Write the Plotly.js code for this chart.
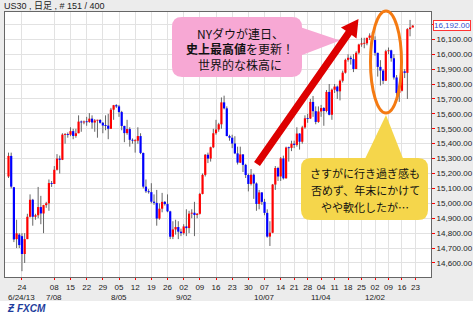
<!DOCTYPE html>
<html><head><meta charset="utf-8">
<script src="https://cdn.plot.ly/plotly-3.0.1.min.js"></script>
<style>html,body{margin:0;padding:0;background:#fff;}#chart{width:475px;height:319px;}</style>
</head><body><div id="chart"></div>
<script>
// ---- Data (US30 daily candles, 151 bars; weeks before mid-Oct include a Sunday bar) ----
const opens = [
15180,15318,15108,14760,
14790,14780,14660,14760,14910,15024,
14910,14920,14975,14932,14988,15000,
15136,15130,15225,15300,15292,15461,
15464,15460,15484,15452,15470,15548,
15543,15548,15546,15568,15542,15556,
15559,15540,15522,15521,15500,15628,
15658,15650,15612,15519,15471,15498,
15426,15420,15420,15451,15338,15112,
15081,15075,15011,15003,14898,14964,
15010,14995,14946,14776,14825,14841,
14810,14800,14845,14834,14931,14937,
14922,14930,15063,15191,15326,15300,
15376,15470,15495,15530,15677,15637,
15451,15440,15401,15335,15273,15328,
15258,15190,15130,15192,15133,14996,
15073,15010,14936,14777,14803,15126,
15237,15180,15301,15168,15374,15372,
15400,15392,15468,15413,15509,
15570,15569,15680,15618,15546,
15616,15639,15619,15747,15594,
15762,15783,15751,15822,15876,
15962,15976,15967,15901,16010,
16065,16073,16073,16110,16125,
16095,16009,15915,15890,15822,
16020,16026,15973,15844,15740,
15755,15885,15875,16168,16179];
const highs = [
15340,15340,15110,14890,
14800,14800,14800,14930,15060,15030,
14930,15110,15050,14990,15010,15160,
15150,15250,15330,15320,15470,15470,
15475,15510,15500,15500,15590,15555,
15555,15580,15605,15590,15565,15560,
15565,15545,15590,15600,15640,15660,
15665,15660,15620,15520,15560,15510,
15435,15430,15510,15470,15340,15160,
15095,15135,15060,15090,15000,15070,
15015,15060,14950,14880,14890,14880,
14830,14860,14960,14950,14960,15010,
14935,15070,15200,15330,15340,15380,
15500,15560,15540,15710,15722,15650,
15460,15460,15450,15380,15380,15330,
15265,15200,15230,15200,15140,15090,
15075,15030,14960,14880,15130,15250,
15245,15310,15320,15380,15380,15420,
15420,15510,15470,15520,15590,
15600,15700,15720,15650,15650,
15660,15645,15760,15800,15770,
15800,15790,15830,15890,15970,
16000,15990,16000,16020,16070,
16110,16110,16110,16140,16150,
16120,16010,15960,15900,16030,
16045,16030,16000,15860,15790,
15900,15900,16175,16230,16195];
const lows = [
15170,15100,14740,14700,
14700,14545,14600,14760,14905,14850,
14890,14900,14860,14800,14970,14950,
15110,15130,15220,15200,15290,15400,
15440,15450,15430,15440,15470,15480,
15530,15520,15540,15500,15480,15440,
15535,15470,15490,15430,15500,15560,
15640,15580,15490,15410,15460,15380,
15400,15340,15400,15330,15100,15070,
15065,15000,14990,14850,14890,14940,
14985,14940,14760,14760,14790,14760,
14780,14790,14780,14800,14900,14780,
14900,14925,15060,15180,15270,15280,
15370,15460,15480,15500,15630,15450,
15420,15370,15330,15260,15270,15210,
15170,15080,15120,15030,14950,14960,
14990,14920,14770,14714,14800,15090,
15150,15150,15160,15165,15280,15350,
15370,15380,15360,15400,15500,
15540,15565,15580,15530,15540,
15580,15520,15610,15590,15560,
15740,15700,15690,15810,15870,
15950,15930,15880,15900,16000,
16050,16040,16060,16095,16080,
15990,15850,15790,15800,15820,
16000,15950,15830,15710,15680,
15750,15840,15700,16120,16180];
const closes = [
15318,15112,14758,14799,
14720,14660,14760,14910,15024,14910,
14920,14975,14932,14988,15000,15136,
15130,15225,15300,15292,15461,15464,
15460,15484,15452,15470,15548,15543,
15548,15546,15568,15542,15556,15559,
15540,15522,15521,15500,15628,15658,
15650,15612,15519,15471,15498,15426,
15420,15420,15451,15338,15112,15081,
15075,15011,15003,14898,14964,15010,
14995,14946,14776,14825,14841,14810,
14800,14845,14834,14931,14937,14922,
14930,15063,15191,15326,15300,15376,
15470,15495,15530,15677,15637,15451,
15440,15401,15335,15273,15328,15258,
15190,15130,15192,15133,14996,15073,
15010,14936,14777,14803,15126,15237,
15180,15301,15168,15374,15372,15400,
15392,15468,15413,15509,15570,
15569,15680,15618,15546,15616,
15639,15619,15747,15594,15762,
15783,15751,15822,15876,15962,
15976,15967,15901,16010,16065,
16073,16073,16110,16125,16095,
16009,15915,15890,15822,16020,
16026,15973,15844,15740,15755,
15885,15875,16168,16179,16192];

const tickIdx   = [5,17,23,29,35,41,47,53,59,65,71,77,83,89,95,101,106,111,116,121,126,131,136,141,146,151];
const tickDay   = ['24','08','15','22','29','05','12','19','26','02','09','16','23','30','07','14','21','28','04','11','18','25','02','09','16','23'];
const tickMonth = ['6/24/13','7/08','','','','8/05','','','','9/02','','','','','10/07','','','','11/04','','','','12/02','','',''];
const yTickVals = [14500,14600,14700,14800,14900,15000,15100,15200,15300,15400,15500,15600,15700,15800,15900,16000,16100,16200];
const lastPrice = 16192;
const headerText = 'US30 , 日足 , # 151 / 400';
const pinkLines = ['NYダウが連日、','<b>史上最高値</b>を更新！','世界的な株高に'];
const yellowLines = ['さすがに行き過ぎ感も','否めず、年末にかけて','やや軟化したが…'];

// ---- Build traces (all scatter so the draw order is: wicks, then bodies) ----
const idx = opens.map((_, i) => i);
const wx = [], wy = [];
idx.forEach(i => { wx.push(i, i, null); wy.push(lows[i], highs[i], null); });
const minH = 6;
const ux = [], uy = [], dx = [], dy = [];
idx.forEach(i => {
  const o = opens[i], c = closes[i];
  const h = Math.max(Math.abs(c - o), minH), m = (o + c) / 2;
  if (c >= o) { ux.push(i, i, null); uy.push(m - h/2, m + h/2, null); }
  else        { dx.push(i, i, null); dy.push(m - h/2, m + h/2, null); }
});
const wicks = {type:'scatter', mode:'lines', x:wx, y:wy, line:{color:'#666666', width:1}, hoverinfo:'skip'};
const upBodies = {type:'scatter', mode:'lines', x:ux, y:uy, line:{color:'#ff0000', width:2.2}, hoverinfo:'skip'};
const downBodies = {type:'scatter', mode:'lines', x:dx, y:dy, line:{color:'#0000ff', width:2.2}, hoverinfo:'skip'};

// ---- pixel -> paper helpers for decorations ----
const PL=5, PT=12, PW=426, PH=265;
const fx = px => (px-PL)/PW;
const fy = py => (PT+PH-py)/PH;
function P(px,py){ return fx(px).toFixed(5)+' '+fy(py).toFixed(5); }
function rrect(x0,y0,x1,y1,r){
  return 'M '+P(x0+r,y0)+' L '+P(x1-r,y0)+' Q '+P(x1,y0)+' '+P(x1,y0+r)+
    ' L '+P(x1,y1-r)+' Q '+P(x1,y1)+' '+P(x1-r,y1)+' L '+P(x0+r,y1)+
    ' Q '+P(x0,y1)+' '+P(x0,y1-r)+' L '+P(x0,y0+r)+' Q '+P(x0,y0)+' '+P(x0+r,y0)+' Z';
}
function arrowPath(tx,ty,hx,hy,hw,L,HW){
  const ddx=hx-tx, ddy=hy-ty, len=Math.hypot(ddx,ddy);
  const vx=ddx/len, vy=ddy/len, nx=-vy, ny=vx;
  const bx=hx-L*vx, by=hy-L*vy;
  const pts=[[tx+hw*nx,ty+hw*ny],[bx+hw*nx,by+hw*ny],[bx+HW*nx,by+HW*ny],[hx,hy],
             [bx-HW*nx,by-HW*ny],[bx-hw*nx,by-hw*ny],[tx-hw*nx,ty-hw*ny]];
  return 'M '+pts.map(p=>P(p[0],p[1])).join(' L ')+' Z';
}
const pink='#f7a8d4', yellow='#f5d64b';
const shapes = [
  {type:'rect', xref:'paper', yref:'paper', x0:fx(-5), x1:fx(480), y0:fy(301), y1:fy(325), fillcolor:'#ffffff', line:{width:0}, layer:'below'},
  {type:'rect', xref:'paper', yref:'paper', x0:fx(473), x1:fx(480), y0:fy(-5), y1:fy(325), fillcolor:'#ffffff', line:{width:0}, layer:'below'},
  {type:'path', xref:'paper', yref:'paper', path:'M '+P(297,26)+' L '+P(340,40.5)+' L '+P(297,57)+' Z', fillcolor:pink, line:{width:0}},
  {type:'path', xref:'paper', yref:'paper', path:rrect(172,17,302,77,10), fillcolor:pink, line:{width:0}},
  {type:'path', xref:'paper', yref:'paper', path:arrowPath(257,164,358.5,19,3.6,17,9.5), fillcolor:'#dd0000', line:{width:0}},
  {type:'circle', xref:'paper', yref:'paper', x0:fx(370.5), x1:fx(401.5), y0:fy(113), y1:fy(11), line:{color:'#f47a12', width:3}},
  {type:'path', xref:'paper', yref:'paper', path:'M '+P(364,161)+' L '+P(386,115)+' L '+P(404,161)+' Z', fillcolor:yellow, line:{width:0}},
  {type:'path', xref:'paper', yref:'paper', path:rrect(301,158,428,220,10), fillcolor:yellow, line:{width:0}}
];

const jp = 'Noto Sans CJK JP, sans-serif';
const latin = 'Liberation Sans, Arial, sans-serif';
const annotations = [
  {xref:'paper', yref:'paper', x:fx(2), y:fy(6), xanchor:'left', yanchor:'middle', text:headerText, showarrow:false, font:{family:'Liberation Sans, Noto Sans CJK JP, sans-serif', size:9, color:'#222'}},
  {xref:'paper', yref:'y', x:fx(432.5), y:lastPrice, xanchor:'left', yanchor:'middle', text:lastPrice.toLocaleString('en-US',{minimumFractionDigits:2}), showarrow:false, bgcolor:'#ffffff', bordercolor:'#ff3333', borderwidth:1, borderpad:0, font:{family:latin, size:8, color:'#3050d0'}},
  {xref:'paper', yref:'paper', x:fx(5), y:fy(308.5), xanchor:'left', yanchor:'middle', text:'<b><i>Ƶ FXCM</i></b>', showarrow:false, font:{family:latin, size:10, color:'#1e3c9c'}}
];
tickMonth.forEach((m,i)=>{ if (m) annotations.push({xref:'x', yref:'paper', x:tickIdx[i], y:fy(291.5), xanchor:'center', yanchor:'top', text:m, showarrow:false, borderpad:0, font:{family:latin, size:8, color:'#222'}}); });
[33,49,65].forEach((py,i)=>annotations.push({xref:'paper', yref:'paper', x:fx(240), y:fy(py), xanchor:'center', yanchor:'middle', text:pinkLines[i], showarrow:false, font:{family:jp, size:12, color:'#111'}}));
[173,190,207].forEach((py,i)=>annotations.push({xref:'paper', yref:'paper', x:fx(365), y:fy(py), xanchor:'center', yanchor:'middle', text:yellowLines[i], showarrow:false, font:{family:jp, size:11, color:'#111'}}));

const yTickText = yTickVals.map(v => (v===16200||v===14500) ? '' : v.toLocaleString('en-US',{minimumFractionDigits:2}));

const layout = {
  width:475, height:319,
  margin:{l:PL, r:475-PL-PW, t:PT, b:319-PT-PH, pad:0},
  paper_bgcolor:'#ececec', plot_bgcolor:'#ffffff',
  showlegend:false, hovermode:false,
  xaxis:{range:[-1.30,156.77], tickmode:'array', tickvals:tickIdx, ticktext:tickDay, tickangle:0,
    showgrid:true, gridcolor:'#e2e2e2', gridwidth:1, zeroline:false,
    showline:true, linecolor:'#666', linewidth:1, mirror:true,
    ticks:'outside', ticklen:2, tickcolor:'#ff0000', tickwidth:1,
    tickfont:{family:latin, size:8, color:'#222'}, fixedrange:true},
  yaxis:{side:'right', range:[14506,16283], tickmode:'array', tickvals:yTickVals, ticktext:yTickText,
    showgrid:true, gridcolor:'#e2e2e2', gridwidth:1, zeroline:false,
    showline:true, linecolor:'#666', linewidth:1, mirror:true,
    ticks:'outside', ticklen:3, tickcolor:'#ff0000', tickwidth:1,
    tickfont:{family:latin, size:8, color:'#222'}, fixedrange:true},
  shapes:shapes, annotations:annotations
};
Plotly.newPlot('chart', [wicks, upBodies, downBodies], layout, {staticPlot:true, displayModeBar:false});
</script></body></html>
